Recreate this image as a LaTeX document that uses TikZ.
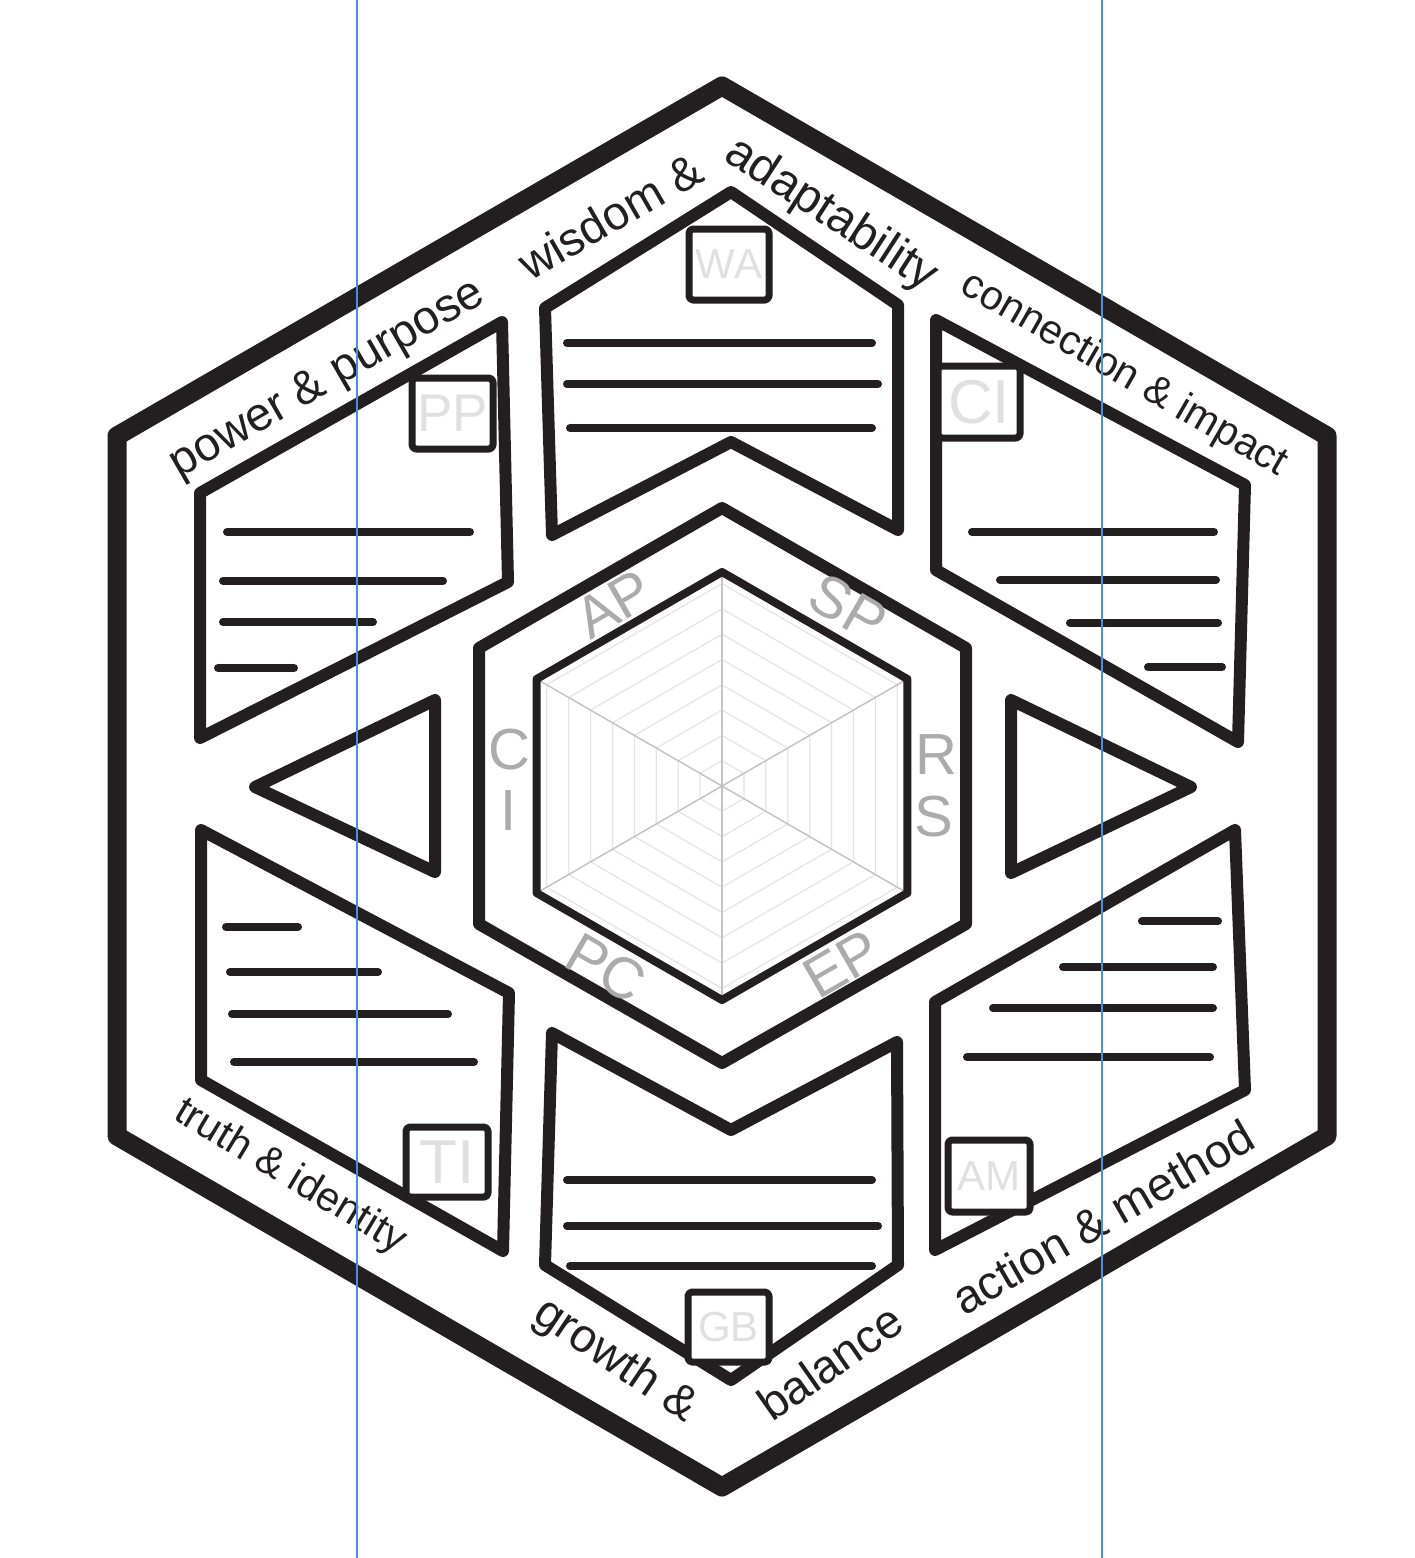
\documentclass[tikz,border=0pt]{standalone}
\usepackage{fontspec}
\setmainfont{Liberation Sans}
\definecolor{ink}{HTML}{231F20}
\definecolor{guide}{HTML}{4A90E2}
\definecolor{axislab}{HTML}{ABABAB}
\definecolor{boxlab}{HTML}{E0E0E0}
\definecolor{gridc}{HTML}{E4E4E4}
\definecolor{spokec}{HTML}{C4C4C4}
\begin{document}
\begin{tikzpicture}[x=1pt,y=-1pt,line join=round,line cap=round,
  outerhex/.style={draw=ink,line width=19pt},
  midhex/.style={draw=ink,line width=12pt},
  framehex/.style={draw=ink,line width=8pt},
  panel/.style={draw=ink,line width=12pt,fill=white},
  rule/.style={draw=ink,line width=8pt},
  labbox/.style={draw=ink,line width=7pt,fill=white,rounded corners=4pt,inner sep=0pt,text=boxlab},
  outlab/.style={text=ink,inner sep=0pt,font=\fontsize{47}{56}\selectfont},
  axlab/.style={text=axislab,inner sep=0pt,font=\fontsize{58}{70}\selectfont},
  gridline/.style={draw=gridc,line width=1.2pt},
  spoke/.style={draw=spokec,line width=1.5pt}]
\useasboundingbox (0,0) rectangle (1414,1558);
\fill[white] (0,0) rectangle (1414,1558);

% outer hexagon
\draw[outerhex] (722,86) -- (1327,436) -- (1327,1136) -- (722,1487) -- (117,1136) -- (117,436) -- cycle;

% middle hexagon
\draw[midhex] (722,508) -- (966,648) -- (966,924) -- (722,1063) -- (479,924) -- (479,648) -- cycle;

% radar grid
\coordinate (c) at (722,786);
\foreach \k in {1,...,8}{
  \pgfmathsetmacro{\r}{25.3*\k}
  \draw[gridline] (c) +(90:\r) -- +(150:\r) -- +(210:\r) -- +(270:\r) -- +(330:\r) -- +(30:\r) -- cycle;
}
\foreach \a in {30,90,...,330}{
  \draw[spoke] (c) -- +(\a:212);
}
% radar frame
\draw[framehex] (c) +(90:214) -- +(150:214) -- +(210:214) -- +(270:214) -- +(330:214) -- +(30:214) -- cycle;

% axis labels
\node[axlab,rotate=30] (ap) at (614,604) {AP};
\node[axlab,rotate=-30] (sp) at (848,608) {SP};
\node[axlab] (r) at (936,755) {R};
\node[axlab] (s) at (934,817) {S};
\node[axlab] (cc) at (509,750) {C};
\node[axlab] (ii) at (509,811) {I};
\node[axlab,rotate=-30] (pc) at (606,968) {PC};
\node[axlab,rotate=30] (ep) at (842,964) {EP};

% triangles
\draw[panel] (435,700) -- (255,787) -- (435,872) -- cycle;
\draw[panel] (1011,700) -- (1191,787) -- (1011,873) -- cycle;

% panels
\draw[panel] (545,308) -- (731,192) -- (898,305) -- (898,530) -- (731,442) -- (552,535) -- cycle;
\draw[panel] (552,1033) -- (731,1130) -- (897,1042) -- (898,1265) -- (731,1380) -- (545,1265) -- cycle;
\draw[panel] (200,493) -- (502,322) -- (508,582) -- (200,738) -- cycle;
\draw[panel] (936,320) -- (1245,485) -- (1238,742) -- (936,570) -- cycle;
\draw[panel] (935,1002) -- (1235,830) -- (1245,1090) -- (935,1250) -- cycle;
\draw[panel] (201,830) -- (509,993) -- (503,1251) -- (201,1080) -- cycle;

% rules in panels
\draw[rule] (567,343) -- (872,343);
\draw[rule] (567,384) -- (878,384);
\draw[rule] (570,428) -- (872,428);

\draw[rule] (567,1180) -- (872,1180);
\draw[rule] (567,1226) -- (878,1226);
\draw[rule] (570,1266) -- (872,1266);

\draw[rule] (227,532) -- (470,532);
\draw[rule] (223,581) -- (443,581);
\draw[rule] (223,622) -- (373,622);
\draw[rule] (218,668) -- (294,668);

\draw[rule] (972,532) -- (1214,532);
\draw[rule] (1000,580) -- (1216,580);
\draw[rule] (1070,623) -- (1218,623);
\draw[rule] (1148,667) -- (1222,667);

\draw[rule] (1142,921) -- (1218,921);
\draw[rule] (1063,967) -- (1213,967);
\draw[rule] (993,1008) -- (1213,1008);
\draw[rule] (967,1057) -- (1210,1057);

\draw[rule] (226,927) -- (298,927);
\draw[rule] (230,972) -- (378,972);
\draw[rule] (232,1014) -- (448,1014);
\draw[rule] (234,1062) -- (474,1062);

% label boxes
\node[labbox,minimum width=80pt,minimum height=71pt,font=\fontsize{42}{50}\selectfont] (wa) at (729,264.5) {WA};
\node[labbox,minimum width=81pt,minimum height=71pt,font=\fontsize{53}{60}\selectfont] (pp) at (452.5,413.5) {PP};
\node[labbox,minimum width=82pt,minimum height=72pt,font=\fontsize{62}{70}\selectfont] (ci) at (979,402) {CI};
\node[labbox,minimum width=82pt,minimum height=70pt,font=\fontsize{62}{70}\selectfont] (ti) at (447,1162) {TI};
\node[labbox,minimum width=82pt,minimum height=72pt,font=\fontsize{42}{50}\selectfont] (am) at (989,1176) {AM};
\node[labbox,minimum width=81pt,minimum height=70pt,font=\fontsize{42}{50}\selectfont] (gb) at (728.5,1327) {GB};

% outer labels
\node[outlab,rotate=30] (l1) at (328,380) {power \& purpose};
\node[outlab,rotate=30] (l2) at (610,216) {wisdom \&};
\node[outlab,rotate=-33,font=\fontsize{48}{58}\selectfont] (l3) at (831,215) {adaptability};
\node[outlab,rotate=-30,font=\fontsize{41}{50}\selectfont] (l4) at (1124,375) {connection \& impact};
\node[outlab,rotate=-31,font=\fontsize{41}{50}\selectfont] (l5) at (290,1177) {truth \& identity};
\node[outlab,rotate=-34] (l6) at (615,1361) {growth \&};
\node[outlab,rotate=35] (l7) at (830,1362) {balance};
\node[outlab,rotate=30] (l8) at (1103,1217) {action \& method};

% guide lines
\draw[guide,line width=1.5pt,line cap=butt] (357,0) -- (357,1558);
\draw[guide,line width=1.5pt,line cap=butt] (1102,0) -- (1102,1558);
\end{tikzpicture}
\end{document}
